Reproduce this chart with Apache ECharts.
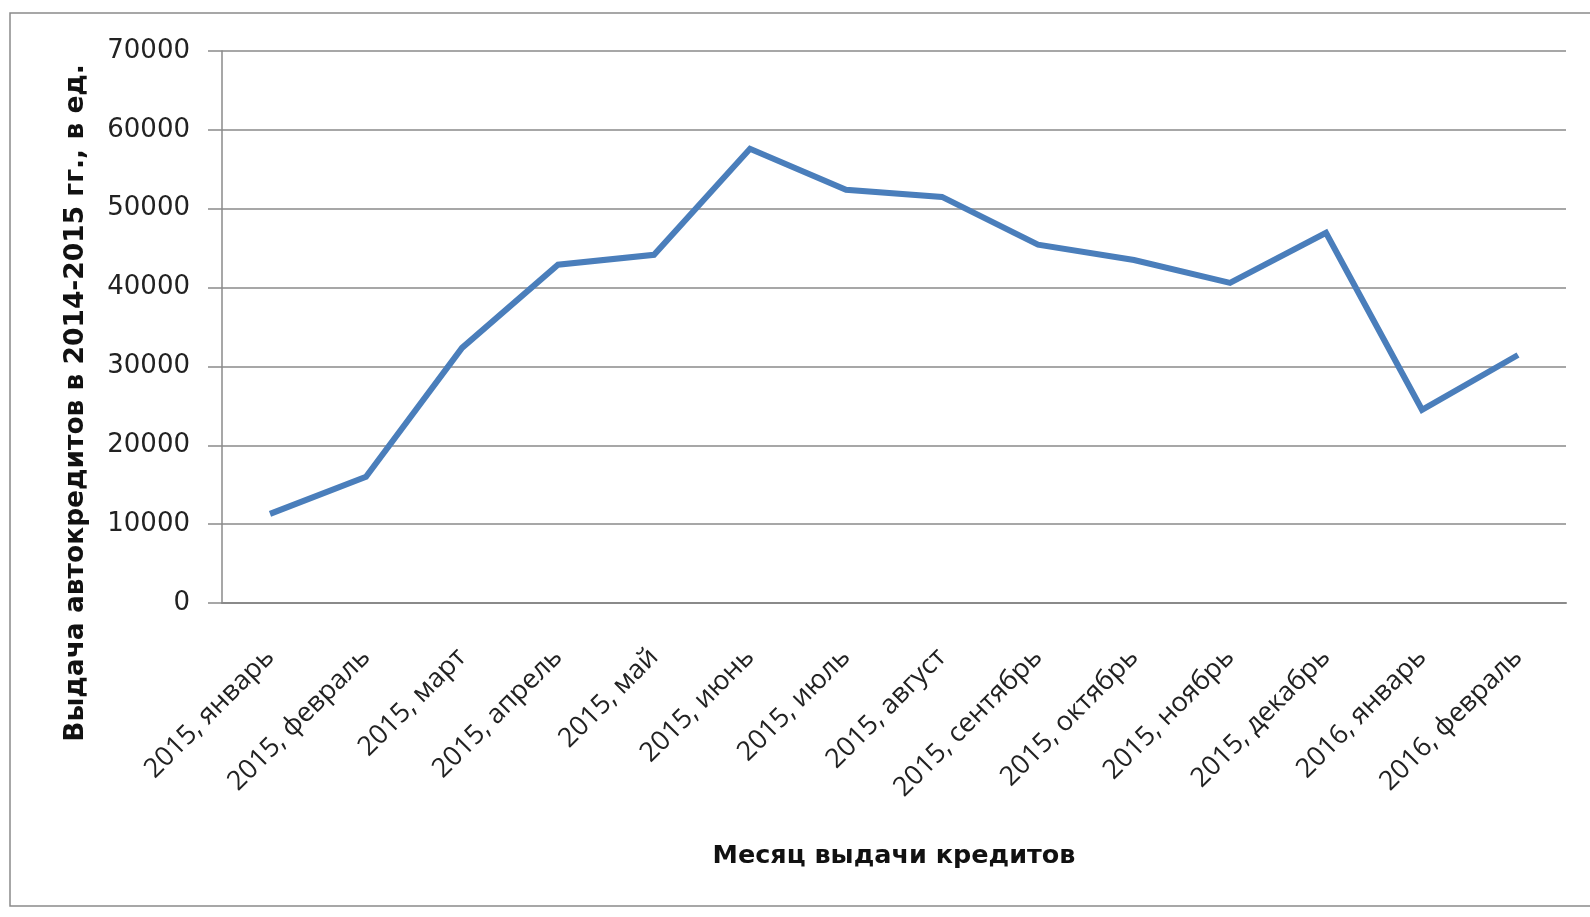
<!DOCTYPE html>
<html>
<head>
<meta charset="utf-8">
<script src="https://cdn.jsdelivr.net/npm/echarts@6/dist/echarts.min.js"></script>
<style>
html,body{margin:0;padding:0;background:#fff;}
#chart{width:1590px;height:917px;}
</style>
</head>
<body>
<div id="chart"></div>
<script>
const categories = ['2015, январь','2015, февраль','2015, март','2015, апрель','2015, май','2015, июнь','2015, июль','2015, август','2015, сентябрь','2015, октябрь','2015, ноябрь','2015, декабрь','2016, январь','2016, февраль'];
const values = [11300, 16000, 32350, 42900, 44150, 57600, 52400, 51500, 45450, 43500, 40600, 46950, 24500, 31450];
const yTicks = [0, 10000, 20000, 30000, 40000, 50000, 60000, 70000];
const yTitle = 'Выдача автокредитов в 2014-2015 гг., в ед.';
const xTitle = 'Месяц выдачи кредитов';

const chart = echarts.init(document.getElementById('chart'));
chart.setOption({
  animation: false,
  backgroundColor: '#fff',
  grid: {left: 222, right: 24, top: 51, bottom: 314, containLabel: false},
  xAxis: {
    type: 'category',
    data: categories,
    boundaryGap: true,
    axisLine: {lineStyle: {color: '#8a8a8a', width: 2}},
    axisTick: {show: false},
    axisLabel: {rotate: 45, margin: 50, color: '#222', fontFamily: 'Open Sans', fontSize: 27}
  },
  yAxis: {
    type: 'value',
    min: yTicks[0],
    max: yTicks[yTicks.length - 1],
    interval: yTicks[1] - yTicks[0],
    axisLine: {show: true, lineStyle: {color: '#8a8a8a', width: 1.5}},
    axisTick: {show: true, length: 14, lineStyle: {color: '#8a8a8a', width: 1.5}},
    splitLine: {lineStyle: {color: '#8a8a8a', width: 1.5}},
    axisLabel: {margin: 32, color: '#222', fontFamily: 'DejaVu Sans', fontSize: 26, formatter: v => String(v)}
  },
  series: [{
    type: 'line',
    data: values,
    symbol: 'none',
    lineStyle: {color: '#4a7ebb', width: 6, join: 'miter'},
    itemStyle: {color: '#4a7ebb'}
  }],
  graphic: [
    {type: 'rect', shape: {x: 10, y: 13, width: 1620, height: 893}, style: {fill: 'none', stroke: '#8a8a8a', lineWidth: 1.5}, silent: true, z: -1},
    {type: 'text', x: 76, y: 403, rotation: Math.PI / 2, style: {text: yTitle, font: 'bold 26.5px "DejaVu Sans"', fill: '#111', align: 'center', verticalAlign: 'middle'}},
    {type: 'text', x: 894, y: 856, style: {text: xTitle, font: 'bold 25.5px "DejaVu Sans"', fill: '#111', align: 'center', verticalAlign: 'middle'}}
  ]
});
</script>
</body>
</html>
